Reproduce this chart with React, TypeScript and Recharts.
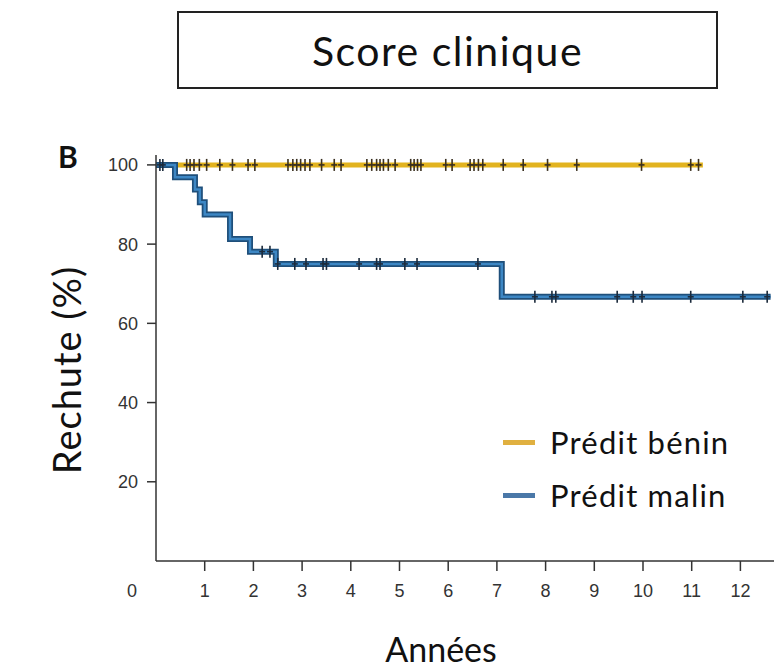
import React from 'react';
import { ComposedChart, Line, Scatter, XAxis, YAxis } from 'recharts';

// step times (years) and survival (%) for each group
const benignTimes = [0, 11.23];
const benignSurvival = [100, 100];
const malignTimes = [0, 0.39, 0.8, 0.9, 1.0, 1.52, 1.93, 2.46, 7.1, 12.62];
const malignSurvival = [100, 96.9, 93.8, 90.6, 87.5, 81.3, 78.1, 75, 66.7, 66.7];

// censored observations
const benignCensorTimes = [
  0.63, 0.7, 0.78, 0.89, 1.04, 1.31, 1.57, 1.89, 2.03, 2.71, 2.81, 2.89, 2.97, 3.06,
  3.16, 3.4, 3.66, 3.8, 4.33, 4.43, 4.53, 4.6, 4.67, 4.77, 4.91, 5.23, 5.3, 5.37, 5.44,
  5.95, 6.08, 6.45, 6.53, 6.62, 6.71, 7.13, 7.54, 8.04, 8.64, 9.97, 10.98, 11.14,
];
const malignCensorTimes = [
  0.08, 0.14, 2.18, 2.34, 2.5, 2.85, 3.08, 3.43, 3.5, 4.17, 4.53, 4.6, 5.11, 5.36, 6.61,
  7.78, 8.13, 8.21, 9.47, 9.8, 9.98, 10.98, 12.05, 12.55,
];
const malignCensorSurvival = [
  100, 100, 78.1, 78.1, 75, 75, 75, 75, 75, 75, 75, 75, 75, 75, 75,
  66.7, 66.7, 66.7, 66.7, 66.7, 66.7, 66.7, 66.7, 66.7,
];

const xTicks = [0, 1, 2, 3, 4, 5, 6, 7, 8, 9, 10, 11, 12];
const yTicks = [20, 40, 60, 80, 100];

const benignData = benignTimes.map((t, i) => ({ t, s: benignSurvival[i] }));
const malignData = malignTimes.map((t, i) => ({ t, s: malignSurvival[i] }));
const benignCensors = benignCensorTimes.map((t) => ({ t, s: 100 }));
const malignCensors = malignCensorTimes.map((t, i) => ({ t, s: malignCensorSurvival[i] }));

const CensorMark = (props: any) => {
  const { cx, cy, fill } = props;
  return (
    <g>
      <line x1={cx} x2={cx} y1={cy - 6} y2={cy + 6} stroke={fill} strokeWidth={1.6} />
      <line x1={cx - 3} x2={cx + 3} y1={cy} y2={cy} stroke={fill} strokeWidth={1.6} />
    </g>
  );
};

const XTick = (props: any) => {
  const { x, y, payload } = props;
  const v = payload.value;
  if (v === 0) {
    return (
      <text x={x - 24} y={y + 26} textAnchor="middle" fontSize={18} fill="#333" fontFamily="Liberation Sans">
        0
      </text>
    );
  }
  return (
    <g>
      <line x1={x} x2={x} y1={y - 10} y2={y} stroke="#333" strokeWidth={1.5} />
      <text x={x} y={y + 26} textAnchor="middle" fontSize={18} fill="#333" fontFamily="Liberation Sans">
        {v}
      </text>
    </g>
  );
};

const App: React.FC = () => {
  return (
    <div style={{ position: 'absolute', left: 0, top: 0, width: 774, height: 670, background: '#fff', fontFamily: 'Lato', color: '#111' }}>
      {/* title box */}
      <div
        style={{
          position: 'absolute', left: 177, top: 11, width: 537, height: 74,
          border: '2px solid #222', display: 'flex', alignItems: 'center', justifyContent: 'center',
          fontSize: 41, letterSpacing: 1.5,
        }}
      >
        Score clinique
      </div>

      <div style={{ position: 'absolute', left: 58, top: 138, fontSize: 30, fontWeight: 700 }}>B</div>

      <ComposedChart
        width={774}
        height={670}
        margin={{ top: 155, right: 0, bottom: 79, left: 0 }}
        style={{ position: 'absolute', left: 0, top: 0 }}
      >
        <XAxis
          dataKey="t"
          type="number"
          domain={[0, 12.69]}
          ticks={xTicks}
          allowDataOverflow
          height={30}
          tickSize={10}
          tickMargin={0}
          tickLine={false}
          tick={<XTick />}
          axisLine={{ stroke: '#333', strokeWidth: 1.5 }}
          interval={0}
        />
        <YAxis
          dataKey="s"
          type="number"
          domain={[0, 102.5]}
          ticks={yTicks}
          width={156}
          tickSize={9}
          tickMargin={9}
          tick={{ fontSize: 18, fill: '#333', fontFamily: 'Liberation Sans' }}
          tickLine={{ stroke: '#333', strokeWidth: 1.5 }}
          axisLine={{ stroke: '#333', strokeWidth: 1.5 }}
          interval={0}
        />
        <Line data={benignData} dataKey="s" type="stepAfter" stroke="#e2b31f" strokeWidth={5} dot={false} activeDot={false} isAnimationActive={false} />
        <Line data={malignData} dataKey="s" type="stepAfter" stroke="#1f4f7a" strokeWidth={6} dot={false} activeDot={false} isAnimationActive={false} />
        <Line data={malignData} dataKey="s" type="stepAfter" stroke="#3d87c4" strokeWidth={2.5} dot={false} activeDot={false} isAnimationActive={false} />
        <Scatter data={benignCensors} dataKey="s" fill="#3a3020" shape={<CensorMark />} isAnimationActive={false} />
        <Scatter data={malignCensors} dataKey="s" fill="#1c2b3c" shape={<CensorMark />} isAnimationActive={false} />
      </ComposedChart>

      {/* y label */}
      <div
        style={{
          position: 'absolute', left: 66, top: 370, transform: 'translate(-50%, -50%) rotate(-90deg)',
          whiteSpace: 'nowrap', fontSize: 38, letterSpacing: 1, lineHeight: '40px',
        }}
      >
        Rechute (%)
      </div>

      {/* x label */}
      <div style={{ position: 'absolute', left: 441, top: 649, transform: 'translate(-50%, -50%)', fontSize: 34, lineHeight: '40px' }}>
        Années
      </div>

      {/* legend */}
      <div style={{ position: 'absolute', left: 503, top: 440, width: 32, height: 5, background: '#e0b040' }} />
      <div style={{ position: 'absolute', left: 550, top: 442, transform: 'translateY(-50%)', fontSize: 31, letterSpacing: 1.2, lineHeight: '34px', whiteSpace: 'nowrap' }}>
        Prédit bénin
      </div>
      <div style={{ position: 'absolute', left: 503, top: 493, width: 32, height: 5, background: '#4a78a8' }} />
      <div style={{ position: 'absolute', left: 550, top: 495, transform: 'translateY(-50%)', fontSize: 31, letterSpacing: 1.2, lineHeight: '34px', whiteSpace: 'nowrap' }}>
        Prédit malin
      </div>
    </div>
  );
};

export default App;
